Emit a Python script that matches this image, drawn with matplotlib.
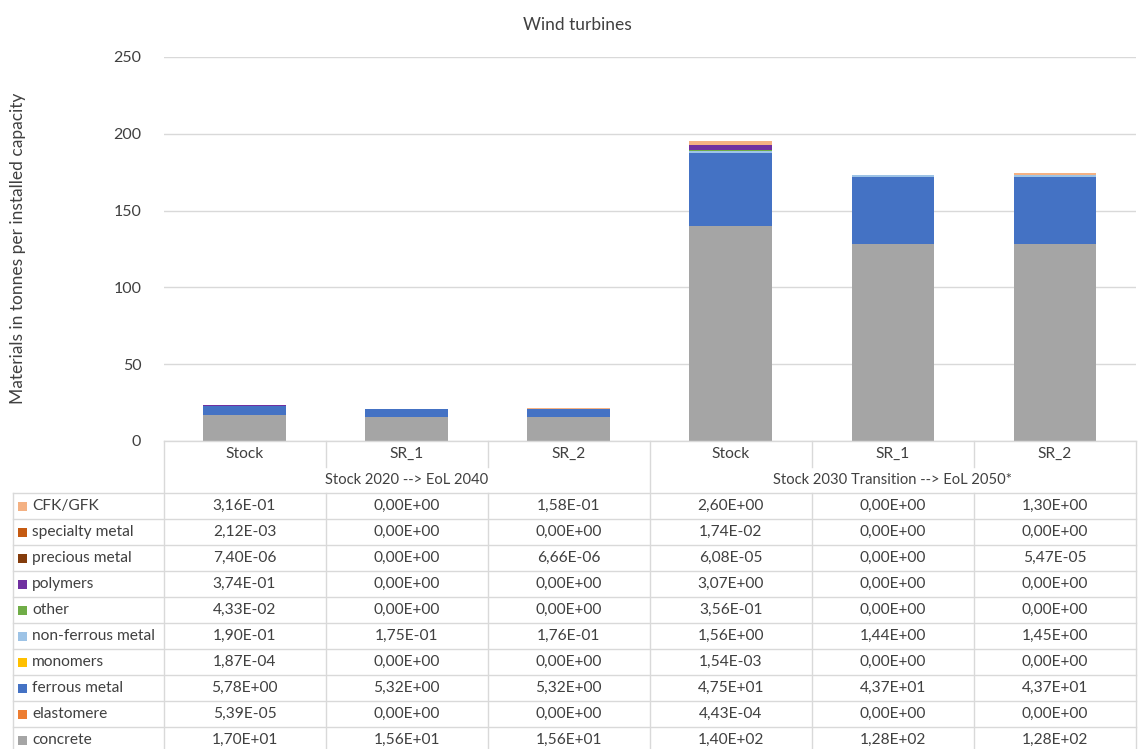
import numpy as np
import matplotlib.pyplot as plt
from matplotlib.patches import Rectangle

plt.rcParams['font.family'] = ['Lato', 'DejaVu Sans']

# %%
# Data: tonnes per installed capacity, per scenario column

scenarios = ['Stock', 'SR_1', 'SR_2', 'Stock', 'SR_1', 'SR_2']
groups = ['Stock 2020 --> EoL 2040', 'Stock 2030 Transition --> EoL 2050*']

# stacking order, bottom to top
materials = ['concrete', 'elastomere', 'ferrous metal', 'monomers', 'non-ferrous metal',
             'other', 'polymers', 'precious metal', 'specialty metal', 'CFK/GFK']

concrete = [1.70e+01, 1.56e+01, 1.56e+01, 1.40e+02, 1.28e+02, 1.28e+02]
elastomere = [5.39e-05, 0.0, 0.0, 4.43e-04, 0.0, 0.0]
ferrous_metal = [5.78e+00, 5.32e+00, 5.32e+00, 4.75e+01, 4.37e+01, 4.37e+01]
monomers = [1.87e-04, 0.0, 0.0, 1.54e-03, 0.0, 0.0]
non_ferrous_metal = [1.90e-01, 1.75e-01, 1.76e-01, 1.56e+00, 1.44e+00, 1.45e+00]
other = [4.33e-02, 0.0, 0.0, 3.56e-01, 0.0, 0.0]
polymers = [3.74e-01, 0.0, 0.0, 3.07e+00, 0.0, 0.0]
precious_metal = [7.40e-06, 0.0, 6.66e-06, 6.08e-05, 0.0, 5.47e-05]
specialty_metal = [2.12e-03, 0.0, 0.0, 1.74e-02, 0.0, 0.0]
cfk_gfk = [3.16e-01, 0.0, 1.58e-01, 2.60e+00, 0.0, 1.30e+00]

values = [concrete, elastomere, ferrous_metal, monomers, non_ferrous_metal,
          other, polymers, precious_metal, specialty_metal, cfk_gfk]

colors = ['#a5a5a5', '#ed7d31', '#4472c4', '#ffc000', '#9dc3e6',
          '#70ad47', '#7030a0', '#843c0c', '#c55a11', '#f4b183']


def sci_comma(v):
    # Excel style scientific notation with decimal comma
    return f'{v:.2E}'.replace('.', ',')


# %%
# Layout in pixels

W, H = 1139, 749
plot_l, plot_r = 163.5, 1136
plot_t, plot_b = 57, 441
row_h = 26
grid_c = '#d9d9d9'
text_c = '#404040'
fs_tab = 11.2

fig = plt.figure(figsize=(W / 100, H / 100), dpi=100)
ax = fig.add_axes([plot_l / W, 1 - plot_b / H, (plot_r - plot_l) / W, (plot_b - plot_t) / H])

x = np.arange(len(scenarios))
bottom = np.zeros(len(scenarios))
for name, vals, col in zip(materials, values, colors):
    ax.bar(x, vals, bottom=bottom, width=0.51, color=col, label=name, zorder=3)
    bottom += np.array(vals)

ax.set_xlim(-0.5, len(scenarios) - 0.5)
ax.set_ylim(0, 250)
ax.set_yticks(np.arange(0, 251, 50))
ax.tick_params(axis='y', length=0, labelsize=11.5, labelcolor=text_c, pad=16)
ax.set_xticks([])
ax.yaxis.grid(True, color=grid_c, lw=1, zorder=0)
for s in ax.spines.values():
    s.set_visible(False)

fig.text(577 / W, 1 - 25 / H, 'Wind turbines', ha='center', va='center', fontsize=12.5, color=text_c)
fig.text(18 / W, 1 - 248 / H, 'Materials in tonnes per installed capacity', rotation=90,
         ha='center', va='center', fontsize=12.5, color=text_c)

# %%
# Data table under the chart, drawn on a pixel-space overlay

tab = fig.add_axes([0, 0, 1, 1], zorder=5)
tab.set_xlim(0, W)
tab.set_ylim(H, 0)
tab.axis('off')
tab.patch.set_alpha(0)

col_w = (plot_r - plot_l) / len(scenarios)
edges = [plot_l + i * col_w for i in range(len(scenarios) + 1)]
centers = [plot_l + (i + 0.5) * col_w for i in range(len(scenarios))]
tab_l = 13
head_b = plot_b + row_h
data_t = plot_b + 2 * row_h
bottom_px = data_t + row_h * len(materials)

def hline(y, x0, x1):
    tab.plot([x0, x1], [y, y], color=grid_c, lw=1)

def vline(x0, y0, y1):
    tab.plot([x0, x0], [y0, y1], color=grid_c, lw=1)

hline(plot_b, plot_l, plot_r)
for k in range(len(materials) + 1):
    hline(data_t + k * row_h, tab_l, plot_r)
vline(tab_l, data_t, bottom_px)
for i, ex in enumerate(edges):
    if i in (0, 3, 6):
        vline(ex, plot_b, bottom_px)
    else:
        vline(ex, plot_b, head_b)
        vline(ex, data_t, bottom_px)

for cx, lab in zip(centers, scenarios):
    tab.text(cx, plot_b + row_h / 2, lab, ha='center', va='center', fontsize=fs_tab, color=text_c)
for g, lab in enumerate(groups):
    gx = (edges[3 * g] + edges[3 * g + 3]) / 2
    tab.text(gx, head_b + row_h / 2, lab, ha='center', va='center', fontsize=10.6, color=text_c)

# rows listed top to bottom, reverse of the stacking order
for k, m in enumerate(reversed(range(len(materials)))):
    yc = data_t + k * row_h + row_h / 2
    tab.add_patch(Rectangle((18, yc - 4.5), 9, 9, color=colors[m], lw=0))
    tab.text(32, yc, materials[m], ha='left', va='center', fontsize=fs_tab, color=text_c)
    for cx, v in zip(centers, values[m]):
        tab.text(cx, yc, sci_comma(v), ha='center', va='center', fontsize=fs_tab, color=text_c)

fig.savefig('out.png', dpi=100)
